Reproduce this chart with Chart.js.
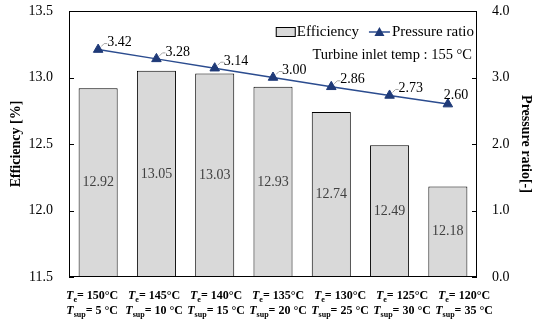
<!DOCTYPE html>
<html>
<head>
<meta charset="utf-8">
<script src="https://cdn.jsdelivr.net/npm/chart.js@4.4.1/dist/chart.umd.min.js"></script>
<style>
  html, body { margin: 0; padding: 0; background: #fff; }
  #wrap { width: 534px; height: 321px; }
</style>
</head>
<body>
<div id="wrap"><canvas id="chart" width="534" height="321"></canvas></div>
<script>
const teValues = [150, 145, 140, 135, 130, 125, 120];
const tsupValues = [5, 10, 15, 20, 25, 30, 35];
const efficiency = [12.92, 13.05, 13.03, 12.93, 12.74, 12.49, 12.18];
const pressureRatio = [3.42, 3.28, 3.14, 3.0, 2.86, 2.73, 2.6];
const categories = teValues.map((t, i) => `Te= ${t}°C Tsup= ${tsupValues[i]} °C`);

const SERIF = '"Liberation Serif", "Times New Roman", serif';
const lineColor = "#2b4c8f";
const markerColor = "#1f3a78";

function drawRich(ctx, cx, y, parts) {
  let total = 0;
  parts.forEach((p) => {
    ctx.font = p.font;
    p.w = ctx.measureText(p.text).width;
    total += p.w;
  });
  let x = cx - total / 2;
  parts.forEach((p) => {
    ctx.font = p.font;
    ctx.fillText(p.text, x, y + (p.dy || 0));
    x += p.w;
  });
}

const decorations = {
  id: "decorations",
  afterDatasetsDraw(chart) {
    const { ctx, chartArea: a, scales } = chart;
    ctx.save();

    // frame
    ctx.strokeStyle = "#000";
    ctx.lineWidth = 1;
    ctx.strokeRect(Math.round(a.left) + 0.5, Math.round(a.top) + 0.5,
      Math.round(a.right - a.left) - 1, Math.round(a.bottom - a.top) - 1);

    // inward ticks
    scales.y.ticks.forEach((t) => {
      const y = Math.round(scales.y.getPixelForValue(t.value)) + 0.5;
      ctx.beginPath();
      ctx.moveTo(a.left, y);
      ctx.lineTo(a.left + 5, y);
      ctx.stroke();
    });
    scales.y1.ticks.forEach((t) => {
      const y = Math.round(scales.y1.getPixelForValue(t.value)) + 0.5;
      ctx.beginPath();
      ctx.moveTo(a.right - 5, y);
      ctx.lineTo(a.right, y);
      ctx.stroke();
    });

    // bar value labels
    ctx.fillStyle = "#404040";
    ctx.font = "14px " + SERIF;
    ctx.textAlign = "center";
    ctx.textBaseline = "middle";
    efficiency.forEach((v, i) => {
      const x = scales.x.getPixelForValue(i);
      const top = scales.y.getPixelForValue(v);
      ctx.fillText(v.toFixed(2), x, (top + a.bottom) / 2);
    });

    // line value labels
    const lineMeta = chart.getDatasetMeta(0);
    ctx.font = "14px " + SERIF;
    ctx.textAlign = "left";
    lineMeta.data.forEach((pt, i) => {
      const txt = pressureRatio[i].toFixed(2);
      ctx.fillStyle = "#000";
      if (i === lineMeta.data.length - 1) {
        ctx.fillText(txt, pt.x - 4, pt.y - 9);
        return;
      }
      ctx.strokeStyle = "#a6a6a6";
      ctx.beginPath();
      ctx.moveTo(pt.x + 3, pt.y - 3);
      ctx.lineTo(pt.x + 6, pt.y - 6);
      ctx.lineTo(pt.x + 9, pt.y - 6);
      ctx.stroke();
      ctx.fillText(txt, pt.x + 9, pt.y - 7);
    });

    // legend
    ctx.textBaseline = "middle";
    ctx.font = "15px " + SERIF;
    const ly = a.top + 21;
    const txt2 = "Pressure ratio";
    const w2 = ctx.measureText(txt2).width;
    const txt1 = "Efficiency";
    const w1 = ctx.measureText(txt1).width;
    let x = a.right - 3 - w2;
    ctx.fillStyle = "#000";
    ctx.fillText(txt2, x, ly);
    ctx.strokeStyle = lineColor;
    ctx.lineWidth = 1.5;
    ctx.beginPath();
    ctx.moveTo(x - 23, ly);
    ctx.lineTo(x - 2, ly);
    ctx.stroke();
    ctx.fillStyle = markerColor;
    ctx.beginPath();
    ctx.moveTo(x - 12.5, ly - 5);
    ctx.lineTo(x - 7.5, ly + 4);
    ctx.lineTo(x - 17.5, ly + 4);
    ctx.closePath();
    ctx.fill();
    x = x - 33 - w1;
    ctx.fillStyle = "#000";
    ctx.fillText(txt1, x, ly);
    ctx.fillStyle = "#d9d9d9";
    ctx.fillRect(x - 21, ly - 5, 20, 10);
    ctx.strokeStyle = "#000";
    ctx.lineWidth = 1;
    ctx.strokeRect(x - 20.5, ly - 4.5, 19, 9);

    // note
    ctx.font = "14.5px " + SERIF;
    ctx.textAlign = "right";
    ctx.fillStyle = "#000";
    ctx.fillText("Turbine inlet temp : 155 °C", a.right - 5, a.top + 44);

    // category labels
    ctx.textAlign = "left";
    ctx.textBaseline = "alphabetic";
    ctx.fillStyle = "#000";
    const big = "bold 12px " + SERIF;
    const it = "italic bold 12px " + SERIF;
    const sub = "bold 8px " + SERIF;
    teValues.forEach((te, i) => {
      const cx = scales.x.getPixelForValue(i) - 6 + 3.7 * i;
      drawRich(ctx, cx, a.bottom + 22, [
        { text: "T", font: it },
        { text: "e", font: sub, dy: 3 },
        { text: "= " + te + "°C", font: big },
      ]);
      drawRich(ctx, cx, a.bottom + 37, [
        { text: "T", font: it },
        { text: "sup", font: sub, dy: 3 },
        { text: "= " + tsupValues[i] + " °C", font: big },
      ]);
    });
    ctx.restore();
  },
};

function noPad(s) {
  s.paddingTop = 0;
  s.paddingBottom = 0;
}

new Chart(document.getElementById("chart"), {
  data: {
    labels: categories,
    datasets: [
      {
        type: "line",
        label: "Pressure ratio",
        data: pressureRatio,
        yAxisID: "y1",
        borderColor: lineColor,
        borderWidth: 1.5,
        pointStyle: "triangle",
        pointRadius: 5.5,
        pointBackgroundColor: markerColor,
        pointBorderColor: markerColor,
        pointBorderWidth: 1,
        tension: 0,
        order: 0,
      },
      {
        type: "bar",
        label: "Efficiency",
        data: efficiency,
        yAxisID: "y",
        backgroundColor: "#d9d9d9",
        borderColor: "#000",
        borderWidth: 1,
        barPercentage: 0.67,
        categoryPercentage: 1,
        order: 1,
      },
    ],
  },
  options: {
    responsive: false,
    animation: false,
    layout: { padding: { top: 11, left: 0, right: 0, bottom: 0 } },
    plugins: {
      legend: { display: false },
      tooltip: { enabled: false },
    },
    scales: {
      x: {
        offset: true,
        grid: { display: false },
        border: { display: false },
        ticks: { display: false },
        afterFit: (s) => { s.height = 44; s.paddingLeft = 0; s.paddingRight = 0; },
      },
      y: {
        position: "left",
        min: 11.5,
        max: 13.5,
        ticks: {
          stepSize: 0.5,
          padding: 16,
          color: "#000",
          font: { family: SERIF, size: 14 },
          callback: (v) => v.toFixed(1),
        },
        grid: { drawOnChartArea: false, drawTicks: false },
        border: { display: false },
        title: {
          display: true,
          text: "Efficiency [%]",
          color: "#000",
          font: { family: SERIF, size: 14, weight: "bold" },
          padding: { top: 8, bottom: 0 },
        },
        afterFit: (s) => { s.width = 69; noPad(s); },
      },
      y1: {
        position: "right",
        min: 0,
        max: 4,
        ticks: {
          stepSize: 1,
          padding: 15,
          color: "#000",
          font: { family: SERIF, size: 14 },
          callback: (v) => v.toFixed(1),
        },
        grid: { drawOnChartArea: false, drawTicks: false },
        border: { display: false },
        title: {
          display: true,
          text: "Pressure ratio[-]",
          color: "#000",
          font: { family: SERIF, size: 14, weight: "bold" },
          padding: { top: 0, bottom: 0 },
        },
        afterFit: (s) => { s.width = 57; noPad(s); },
      },
    },
  },
  plugins: [decorations],
});
</script>
</body>
</html>
